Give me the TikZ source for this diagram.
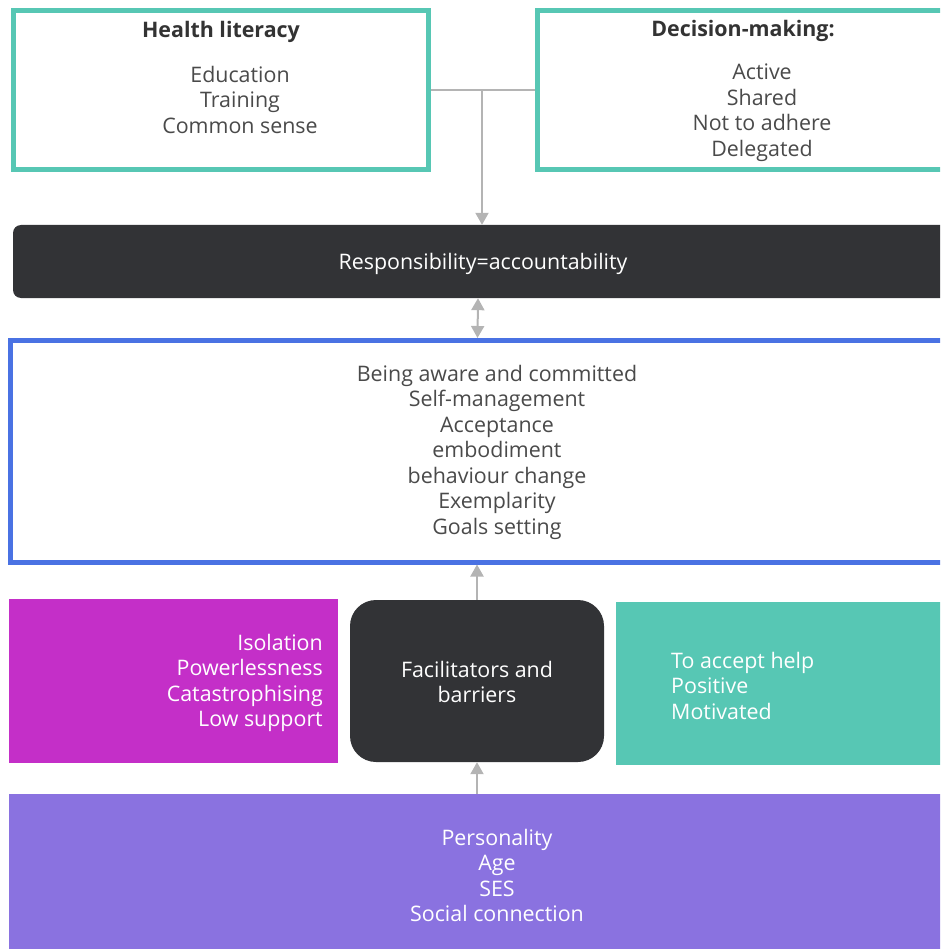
\documentclass[tikz,border=0pt]{standalone}
\usepackage{fontspec}
\setmainfont{Open Sans}
\usetikzlibrary{arrows.meta}

\definecolor{teal}{HTML}{57C7B4}
\definecolor{darkbox}{HTML}{323336}
\definecolor{bluebd}{HTML}{4A72E3}
\definecolor{magent}{HTML}{C42FC8}
\definecolor{purp}{HTML}{8A72E0}
\definecolor{linegray}{HTML}{B4B4B4}
\definecolor{txtgray}{HTML}{4A4A4A}
\definecolor{ttlgray}{HTML}{333333}

\tikzset{
  frame/.style={draw=teal, line width=5pt, fill=white, inner sep=0pt},
  panel/.style={inner sep=0pt, draw=none},
  label/.style={inner sep=0pt, font=\fontsize{21.4}{25.5}\selectfont},
  title/.style={label, font=\fontsize{21.4}{25.5}\selectfont\bfseries, text=ttlgray},
  conn/.style={draw=linegray, line width=2pt, -{Triangle[width=13pt,length=12pt]}},
  biconn/.style={draw=linegray, line width=2pt, {Triangle[width=13pt,length=12pt]}-{Triangle[width=13pt,length=12pt]}},
}

\begin{document}
\begin{tikzpicture}[x=1pt,y=-1pt]
\useasboundingbox (0,0) rectangle (940,949);
\clip (0,0) rectangle (940,949);

% top frames
\node[frame, minimum width=414.5pt, minimum height=159pt] (hl) at (220.75,90) {};
\node[frame, minimum width=420pt, minimum height=159pt] (dm) at (747.5,90) {};
\node[title] (hlt) at (221,32) {Health literacy};
\node[label, text=txtgray, align=center] (hlx) at (240,99.5) {Education\\Training\\Common sense};
\node[title] (dmt) at (743,31) {Decision-making:};
\node[label, text=txtgray, align=center] (dmx) at (762,112.5) {Active\\Shared\\Not to adhere\\Delegated};

% responsibility bar
\node[panel, fill=darkbox, rounded corners=8pt, minimum width=940pt, minimum height=73pt] (resp) at (483,261.5) {};
\node[label, text=white] (respt) at (483,263.5) {Responsibility=accountability};

% central framed list
\node[draw=bluebd, line width=5pt, fill=white, inner sep=0pt, minimum width=945pt, minimum height=221.5pt] (aware) at (482.5,451.25) {};
\node[label, text=txtgray, align=center] (awaret) at (497,452) {Being aware and committed\\Self-management\\Acceptance\\embodiment\\behaviour change\\Exemplarity\\Goals setting};

% middle row
\node[panel, fill=magent, minimum width=329pt, minimum height=164pt] (bar) at (173.5,681) {};
\node[label, text=white, align=right, anchor=east] (bart) at (323,683) {Isolation\\Powerlessness\\Catastrophising\\Low support};
\node[panel, fill=darkbox, rounded corners=26pt, minimum width=254pt, minimum height=162pt] (fac) at (477,681) {};
\node[label, text=white, align=center] (fact) at (477,682) {Facilitators and\\barriers};
\node[panel, fill=teal, minimum width=330pt, minimum height=163pt] (fa) at (781,683.5) {};
\node[label, text=white, align=left, anchor=west] (fat) at (671,685.5) {To accept help\\Positive\\Motivated};

% bottom bar
\node[panel, fill=purp, minimum width=940pt, minimum height=160pt] (base) at (479,874) {};
\node[label, text=white, align=center] (baset) at (497,875.5) {Personality\\Age\\SES\\Social connection};

% connectors
\coordinate (j) at (482,90);
\draw[draw=linegray, line width=1.3pt] (hl.east |- j) -- (dm.west |- j);
\draw[conn] (j) -- (resp.north -| j);
\draw[biconn] ([xshift=-5pt]resp.south) -- ([xshift=-5pt]aware.north);
\draw[conn] (fac.north) -- (fac.north |- aware.south);
\draw[conn] (base.north -| fac.south) -- (fac.south);
\end{tikzpicture}
\end{document}
